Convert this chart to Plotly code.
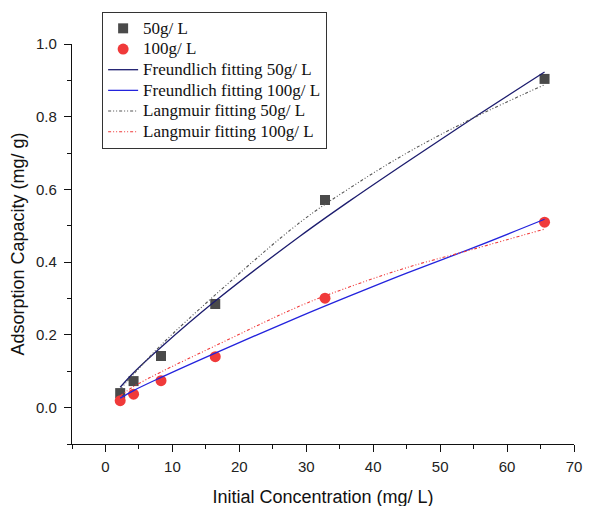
import plotly.graph_objects as go

# Measured data
conc = [2.2, 4.2, 8.3, 16.4, 32.8, 65.6]
q_50 = [0.040, 0.073, 0.142, 0.285, 0.571, 0.904]
q_100 = [0.019, 0.037, 0.074, 0.140, 0.301, 0.510]

# Fitted curves
fit_x = [2.2, 4.2, 8.3, 16.4, 29.1, 36.6, 45, 55, 65.6]
freund_50 = [0.056, 0.096, 0.166, 0.293, 0.472, 0.570, 0.675, 0.797, 0.923]
freund_100 = [0.026, 0.047, 0.083, 0.150, 0.251, 0.308, 0.370, 0.440, 0.518]
lang_50 = [0.050, 0.092, 0.172, 0.310, 0.510, 0.605, 0.700, 0.797, 0.888]
lang_100 = [0.032, 0.058, 0.098, 0.170, 0.280, 0.333, 0.385, 0.436, 0.491]

x_ticks = [0, 10, 20, 30, 40, 50, 60, 70]
y_ticks = [0.0, 0.2, 0.4, 0.6, 0.8, 1.0]

legend_names = ["50g/ L", "100g/ L", "Freundlich fitting 50g/ L", "Freundlich fitting 100g/ L",
                "Langmuir fitting 50g/ L", "Langmuir fitting 100g/ L"]


def lg(name):
    return "<span style='font-size:17px'>" + name + "</span>"


dashdotdot = "3px,2px,1px,2px,1px,2px"

fig = go.Figure()
fig.add_trace(go.Scatter(x=conc, y=q_50, mode="markers", name=lg(legend_names[0]),
                         marker=dict(symbol="square", size=10, color="#4a4a4a")))
fig.add_trace(go.Scatter(x=conc, y=q_100, mode="markers", name=lg(legend_names[1]),
                         marker=dict(symbol="circle", size=11, color="#f03a3a")))
fig.add_trace(go.Scatter(x=fit_x, y=freund_50, mode="lines", name=lg(legend_names[2]),
                         line=dict(color="#1c1c6e", width=1.3, shape="spline")))
fig.add_trace(go.Scatter(x=fit_x, y=freund_100, mode="lines", name=lg(legend_names[3]),
                         line=dict(color="#2323dd", width=1.3, shape="spline")))
fig.add_trace(go.Scatter(x=fit_x, y=lang_50, mode="lines", name=lg(legend_names[4]),
                         line=dict(color="#555555", width=1.1, dash=dashdotdot, shape="spline")))
fig.add_trace(go.Scatter(x=fit_x, y=lang_100, mode="lines", name=lg(legend_names[5]),
                         line=dict(color="#f03a3a", width=1.1, dash=dashdotdot, shape="spline")))

axis_font = dict(family="Liberation Sans, Arial, sans-serif", size=15, color="#222222")
fig.update_layout(
    width=594, height=506,
    margin=dict(l=64, r=28, t=36, b=70, autoexpand=False),
    paper_bgcolor="white", plot_bgcolor="white",
    showlegend=True,
    legend=dict(x=0.06, y=1.08, xanchor="left", yanchor="top",
                font=dict(family="Liberation Serif, Times New Roman, serif", size=13.6, color="#111111"),
                bordercolor="#333333", borderwidth=1, bgcolor="white",
                tracegroupgap=0),
    xaxis=dict(range=[-5, 70], tickvals=x_ticks, ticks="outside", ticklen=7, tickwidth=1.2,
               tickcolor="#111", showline=True, linecolor="#111", linewidth=1.3,
               showgrid=False, zeroline=False, tickfont=axis_font, automargin=False,
               ticklabelstandoff=2,
               minor=dict(dtick=5, tick0=0, ticks="outside", ticklen=4, tickcolor="#111"),
               title=dict(text="Initial Concentration (mg/ L)",
                          font=dict(family="Liberation Sans, Arial, sans-serif", size=18, color="#111"),
                          standoff=16)),
    yaxis=dict(range=[-0.1, 1.0], tickvals=y_ticks, tickformat=".1f", ticks="outside", ticklen=7,
               tickwidth=1.2, tickcolor="#111", showline=True, linecolor="#111", linewidth=1.3,
               showgrid=False, zeroline=False, tickfont=axis_font, automargin=False,
               ticklabelstandoff=4,
               minor=dict(dtick=0.1, tick0=0, ticks="outside", ticklen=4, tickcolor="#111"),
               title=dict(text="Adsorption Capacity (mg/ g)",
                          font=dict(family="Liberation Sans, Arial, sans-serif", size=18, color="#111"),
                          standoff=10)),
)

fig.write_html("out.html")
